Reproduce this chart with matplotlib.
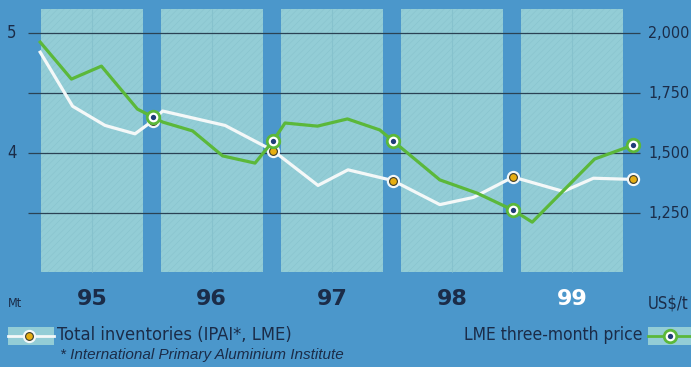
#Aluminium inventories vs LME three-month price, 1995-99

import numpy as np
import matplotlib.pyplot as plt
from matplotlib import font_manager
from matplotlib.patches import Rectangle

# Total inventories (IPAI, LME), Mt
inv_t = [1995.06, 1995.33, 1995.60, 1995.85, 1996.0, 1996.08, 1996.60, 1997.0,
         1997.375, 1997.625, 1998.0, 1998.39, 1998.67, 1999.0, 1999.42, 1999.67, 2000.0]
inv_mt = [4.84, 4.39, 4.23, 4.16, 4.27, 4.35, 4.23, 4.02,
          3.73, 3.86, 3.77, 3.57, 3.63, 3.80, 3.68, 3.79, 3.78]

# LME three-month price, US$/t
price_t = [1995.06, 1995.32, 1995.57, 1995.87, 1996.0, 1996.08, 1996.33, 1996.58,
           1996.85, 1997.0, 1997.10, 1997.37, 1997.62, 1997.89, 1998.0, 1998.39,
           1998.70, 1999.0, 1999.16, 1999.68, 2000.0]
price = [1962, 1808, 1862, 1683, 1650, 1629, 1592, 1488,
         1458, 1550, 1625, 1612, 1642, 1596, 1550, 1388,
         1333, 1262, 1212, 1475, 1533]

years = [1995, 1996, 1997, 1998, 1999]
year_labels = ["95", "96", "97", "98", "99"]
year_ends = [1996, 1997, 1998, 1999, 2000]
mt_ticks = [4, 5]
price_ticks = [1250, 1500, 1750, 2000]

BG = "#4b97cb"
PANEL = "#93cdd6"
GRID = "#2b4254"
TXT = "#1b2c48"
GREEN = "#5bb83a"
YELLOW = "#e6ae12"
DOT = "#1f3d78"

# pick a narrow face if one is installed
_fonts = font_manager.fontManager.ttflist
_names = {f.name for f in _fonts}
if "Liberation Sans Narrow" in _names:
    NARROW = dict(family="Liberation Sans Narrow")
elif any(f.name == "DejaVu Sans" and f.stretch == "condensed" for f in _fonts):
    NARROW = dict(family="DejaVu Sans", fontstretch="condensed")
else:
    NARROW = dict(family="Liberation Sans")

W, H = 691, 367
fig = plt.figure(figsize=(W / 100, H / 100), dpi=100, facecolor=BG)
ax = fig.add_axes([0, 0, 1, 1])
ax.set_facecolor(BG)
ax.set_xlim(1994.725, 2000.483)
ax.set_ylim(2.217, 5.275)
ax.axis("off")

# price axis shares the frame: 1 Mt <-> 500 US$/t, 4 Mt <-> 1,500
ax2 = ax.twinx()
lo, hi = ax.get_ylim()
ax2.set_ylim(1500 + (lo - 4) * 500, 1500 + (hi - 4) * 500)
ax2.axis("off")

plt.rcParams["hatch.linewidth"] = 0.4
renderer = fig.canvas.get_renderer()

def fit(t, width_px):
    # shrink a text until it is no wider than width_px
    w = t.get_window_extent(renderer).width
    if w > width_px:
        t.set_fontsize(t.get_fontsize() * width_px / w)
    return t

#----------Year panels----------
for y in years:
    ax.add_patch(Rectangle((y + 0.07, 3.01), 0.845, 2.19, facecolor=PANEL,
                           edgecolor="#88c3ce", hatch="/////", linewidth=0, zorder=1))
    ax.vlines(y + 0.49, 3.01, 5.2, color="#86c2cd", linewidth=0.8, zorder=1.5)

#----------Grid----------
ax.hlines([3.5, 4, 4.5, 5], 1994.96, 2000.06, color=GRID, linewidth=0.9, zorder=2)

#----------Inventories----------
ax.plot(inv_t, inv_mt, color="#f4f8f8", linewidth=2.3, zorder=3)
inv_t_arr = np.array(inv_t)
m = np.isin(inv_t_arr, year_ends)
ax.plot(inv_t_arr[m], np.array(inv_mt)[m], "o", ms=9.6, mfc="#f4f8f8", mec="none", zorder=4)
ax.plot(inv_t_arr[m], np.array(inv_mt)[m], "o", ms=5.6, mfc=YELLOW, mec="#3a3a2a",
        mew=0.8, zorder=4.1)

#----------Price----------
ax2.plot(price_t, price, color=GREEN, linewidth=2.3, zorder=5)
price_t_arr = np.array(price_t)
m = np.isin(price_t_arr, year_ends)
ax2.plot(price_t_arr[m], np.array(price)[m], "o", ms=9.0, mfc="white", mec=GREEN,
         mew=2.0, zorder=6)
ax2.plot(price_t_arr[m], np.array(price)[m], "o", ms=3.8, mfc=DOT, mec="none", zorder=6.1)

#----------Axis labels----------
for v in mt_ticks:
    ax.text(1994.825, v, str(v), color=TXT, fontsize=12, ha="center", va="center", **NARROW)
for p in price_ticks:
    fit(ax2.text(2000.125, p, f"{p:,}", color=TXT, fontsize=12, ha="left",
                 va="center", **NARROW), 41)

for y, lab in zip(years, year_labels):
    ax.text(y + 0.49, 2.78, lab, color="white" if lab == "99" else TXT,
            fontsize=16, fontweight="bold", ha="center", va="center")

ax.text(1994.85, 2.75, "Mt", color=TXT, fontsize=9, ha="center", va="center", **NARROW)
fit(ax.text(2000.125, 2.75, "US$/t", color=TXT, fontsize=12, ha="left", va="center",
            **NARROW), 41)

#----------Legend----------
def fx(px):
    return px / W

def fy(py):
    return 1 - py / H

for x0 in [8, 648]:
    fig.patches.append(Rectangle((fx(x0), fy(345)), fx(46), 18 / H, facecolor=PANEL,
                                 edgecolor="none", transform=fig.transFigure, figure=fig))

fig.add_artist(plt.Line2D([fx(8), fx(54)], [fy(336)] * 2, color="#f4f8f8", lw=2.0))
fig.add_artist(plt.Line2D([fx(29)], [fy(336)], marker="o", ms=9.6, mfc="#f4f8f8", mec="none"))
fig.add_artist(plt.Line2D([fx(29)], [fy(336)], marker="o", ms=5.6, mfc=YELLOW,
                          mec="#3a3a2a", mew=0.8))
fig.add_artist(plt.Line2D([fx(648), fx(700)], [fy(336)] * 2, color=GREEN, lw=2.0))
fig.add_artist(plt.Line2D([fx(670)], [fy(336)], marker="o", ms=9.0, mfc="white",
                          mec=GREEN, mew=2.0))
fig.add_artist(plt.Line2D([fx(670)], [fy(336)], marker="o", ms=3.8, mfc=DOT, mec="none"))

fit(fig.text(fx(57), fy(335), "Total inventories (IPAI*, LME)", color=TXT, fontsize=14,
             ha="left", va="center", **NARROW), 236)
fit(fig.text(fx(642), fy(335), "LME three-month price", color=TXT, fontsize=14,
             ha="right", va="center", **NARROW), 180)
fit(fig.text(fx(60), fy(355), "* International Primary Aluminium Institute", color=TXT,
             fontsize=11, style="italic", family="Liberation Sans",
             ha="left", va="center"), 326)

plt.savefig("out.png", dpi=100, facecolor=BG)
